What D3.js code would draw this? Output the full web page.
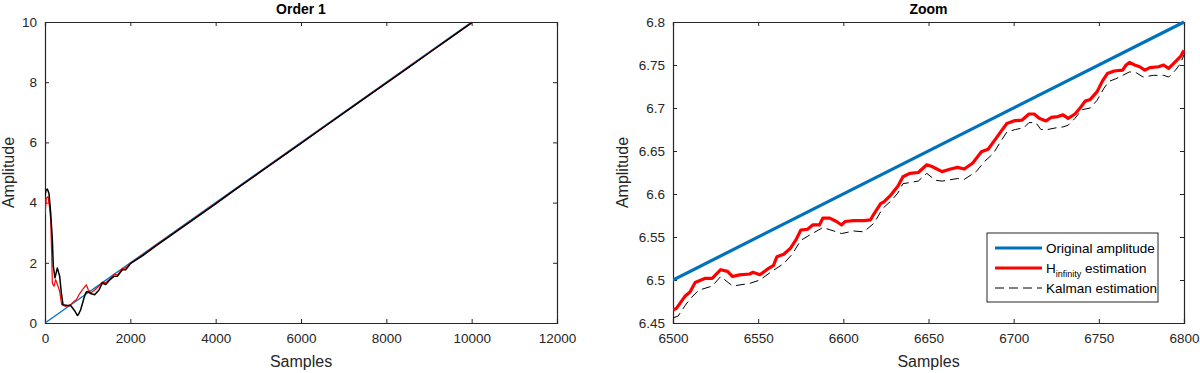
<!DOCTYPE html>
<html lang="en">
<head>
  <meta charset="UTF-8">
  <style>
    body { margin: 0; padding: 0; background: #fff; }
    svg { display: block; font-family: "Liberation Sans", Arial, sans-serif; }
    .tick text { fill: #262626; font-size: 13.5px; }
    .tick line, .domain { stroke: #262626; }
  </style>
</head>
<body>
  <svg id="chart" width="1200" height="373"></svg>

  <script src="https://d3js.org/d3.v7.min.js"></script>
  <script>
    // ---- data ----
    // left panel "Order 1"
    let origSamples = [0, 10000];
    let origValues = [0, 10];

    let hinfSamples = [0, 31, 70, 109, 133, 156, 172, 211, 250, 305, 344, 391, 484, 601, 680, 734, 797, 875, 930, 968, 1010, 1071, 1150, 1260, 1340, 1420, 1520, 1620, 1700, 1810, 1900, 2000, 2300, 2600, 3000, 3500, 4000, 4500, 5000, 5500, 6000, 6500, 7000, 7500, 8000, 8500, 9000, 9500, 10000];
    let hinfValues = [3.6, 4.15, 4.2, 3.82, 3.43, 2.33, 1.33, 1.22, 1.44, 1.22, 1.05, 0.61, 0.55, 0.61, 0.72, 0.77, 0.94, 1.1, 1.2, 1.27, 1.12, 1.0, 1.08, 1.22, 1.36, 1.34, 1.46, 1.62, 1.6, 1.8, 1.84, 1.98, 2.27, 2.58, 2.97, 3.47, 3.98, 4.48, 4.98, 5.48, 5.98, 6.48, 6.98, 7.48, 7.98, 8.48, 8.98, 9.48, 9.98];

    let kalmanSamples = [0, 20, 55, 94, 133, 172, 195, 234, 289, 344, 383, 422, 523, 601, 703, 757, 781, 836, 914, 953, 992, 1070, 1164, 1266, 1344, 1422, 1523, 1617, 1695, 1813, 1891, 2008, 2300, 2600, 3000, 3500, 4000, 4500, 5000, 5500, 6000, 6500, 7000, 7500, 8000, 8500, 9000, 9500, 10000];
    let kalmanValues = [4.2, 4.4, 4.45, 4.3, 3.66, 2.77, 1.88, 1.5, 1.83, 1.55, 1.0, 0.61, 0.58, 0.58, 0.39, 0.25, 0.28, 0.44, 0.83, 1.0, 1.05, 0.98, 0.94, 1.1, 1.33, 1.28, 1.44, 1.55, 1.55, 1.77, 1.77, 1.98, 2.25, 2.56, 2.96, 3.46, 3.96, 4.47, 4.97, 5.47, 5.97, 6.47, 6.97, 7.47, 7.97, 8.47, 8.97, 9.47, 9.97];

    // right panel "Zoom"
    let zoomOrigSamples = [6500, 6800];
    let zoomOrigValues = [6.5, 6.8];

    let zoomHinfSamples = [6500, 6502, 6507, 6510, 6513, 6519, 6523, 6528, 6532, 6535, 6539, 6545, 6547, 6551, 6555, 6559, 6561, 6565, 6569, 6572, 6575, 6579, 6582, 6586, 6588, 6592, 6596, 6599, 6601, 6606, 6612, 6616, 6618, 6622, 6624, 6628, 6632, 6635, 6639, 6644, 6649, 6652, 6658, 6663, 6667, 6671, 6676, 6681, 6685, 6689, 6693, 6696, 6700, 6705, 6709, 6712, 6715, 6719, 6722, 6726, 6729, 6732, 6736, 6739, 6742, 6745, 6749, 6752, 6755, 6759, 6764, 6766, 6768, 6771, 6774, 6777, 6780, 6785, 6788, 6791, 6795, 6798, 6800];
    let zoomHinfValues = [6.465, 6.467, 6.481, 6.486, 6.497, 6.502, 6.502, 6.512, 6.510, 6.504, 6.506, 6.507, 6.509, 6.506, 6.512, 6.517, 6.527, 6.530, 6.537, 6.546, 6.558, 6.559, 6.564, 6.564, 6.572, 6.572, 6.568, 6.564, 6.568, 6.569, 6.569, 6.570, 6.577, 6.589, 6.591, 6.599, 6.609, 6.620, 6.624, 6.625, 6.634, 6.632, 6.626, 6.629, 6.631, 6.629, 6.636, 6.649, 6.652, 6.663, 6.674, 6.682, 6.685, 6.686, 6.693, 6.693, 6.688, 6.685, 6.689, 6.690, 6.692, 6.688, 6.693, 6.700, 6.708, 6.710, 6.719, 6.731, 6.740, 6.743, 6.744, 6.750, 6.753, 6.750, 6.748, 6.744, 6.747, 6.748, 6.750, 6.746, 6.754, 6.760, 6.767];

    let zoomKalmanSamples = [6500, 6503, 6507, 6510, 6515, 6523, 6528, 6535, 6545, 6551, 6558, 6565, 6570, 6575, 6580, 6588, 6596, 6599, 6606, 6612, 6618, 6623, 6628, 6632, 6635, 6644, 6649, 6654, 6658, 6667, 6671, 6678, 6683, 6688, 6693, 6696, 6701, 6706, 6709, 6713, 6716, 6720, 6725, 6729, 6732, 6736, 6740, 6745, 6749, 6753, 6756, 6760, 6764, 6768, 6772, 6776, 6782, 6788, 6791, 6795, 6798, 6800];
    let zoomKalmanValues = [6.456, 6.458, 6.470, 6.478, 6.488, 6.493, 6.504, 6.493, 6.496, 6.500, 6.510, 6.519, 6.530, 6.546, 6.552, 6.561, 6.556, 6.554, 6.557, 6.556, 6.566, 6.583, 6.592, 6.601, 6.612, 6.615, 6.624, 6.616, 6.615, 6.618, 6.617, 6.626, 6.638, 6.647, 6.663, 6.672, 6.675, 6.677, 6.683, 6.683, 6.675, 6.675, 6.677, 6.678, 6.680, 6.688, 6.698, 6.700, 6.709, 6.723, 6.731, 6.734, 6.738, 6.742, 6.741, 6.736, 6.738, 6.738, 6.736, 6.744, 6.752, 6.762];

    let leftXTicks = [0, 2000, 4000, 6000, 8000, 10000, 12000];
    let leftYTicks = [0, 2, 4, 6, 8, 10];
    let rightXTicks = [6500, 6550, 6600, 6650, 6700, 6750, 6800];
    let rightYTicks = [6.45, 6.5, 6.55, 6.6, 6.65, 6.7, 6.75, 6.8];

    let blue = "#0072BD", red = "#FF0000", black = "#000000";

    let svg = d3.select("#chart");
    let zip = (xs, ys) => xs.map((x, i) => [x, ys[i]]);

    function panel(opt) {
      let g = svg.append("g");
      let x = d3.scaleLinear().domain(opt.xDomain).range([opt.left, opt.right]);
      let y = d3.scaleLinear().domain(opt.yDomain).range([opt.bottom, opt.top]);
      let fmt = d => String(+d.toFixed(2));

      // ticks on all four sides, pointing inward (box on)
      g.append("g").attr("transform", "translate(0," + opt.bottom + ")")
        .call(d3.axisBottom(x).tickValues(opt.xTicks).tickSize(-4).tickPadding(10).tickFormat(fmt));
      g.append("g").attr("transform", "translate(0," + opt.top + ")")
        .call(d3.axisTop(x).tickValues(opt.xTicks).tickSize(-4).tickFormat(""));
      g.append("g").attr("transform", "translate(" + opt.left + ",0)")
        .call(d3.axisLeft(y).tickValues(opt.yTicks).tickSize(-4).tickPadding(8).tickFormat(fmt));
      g.append("g").attr("transform", "translate(" + opt.right + ",0)")
        .call(d3.axisRight(y).tickValues(opt.yTicks).tickSize(-4).tickFormat(""));
      g.selectAll(".domain").attr("stroke-width", 1.2);

      let clipId = "clip" + opt.id;
      g.append("clipPath").attr("id", clipId).append("rect")
        .attr("x", opt.left).attr("y", opt.top - 2)
        .attr("width", opt.right - opt.left + 2).attr("height", opt.bottom - opt.top + 2);

      let line = d3.line().x(d => x(d[0])).y(d => y(d[1]));
      let lines = g.append("g").attr("clip-path", "url(#" + clipId + ")");
      opt.series.forEach(s => {
        lines.append("path")
          .attr("d", line(s.data))
          .attr("fill", "none")
          .attr("stroke", s.color)
          .attr("stroke-width", s.width)
          .attr("stroke-dasharray", s.dash || null)
          .attr("stroke-linejoin", "round");
      });

      g.append("text")
        .attr("x", (opt.left + opt.right) / 2).attr("y", opt.top - 8)
        .attr("text-anchor", "middle").attr("font-weight", "bold")
        .attr("font-size", 14).attr("fill", "#000").text(opt.title);
      g.append("text")
        .attr("x", (opt.left + opt.right) / 2).attr("y", 367)
        .attr("text-anchor", "middle").attr("font-size", 16).attr("fill", "#262626").text("Samples");
      g.append("text")
        .attr("transform", "translate(" + opt.yLabelX + "," + ((opt.top + opt.bottom) / 2) + ") rotate(-90)")
        .attr("text-anchor", "middle").attr("font-size", 16).attr("fill", "#262626").text("Amplitude");
      return g;
    }

    panel({
      id: "L", title: "Order 1",
      left: 45, right: 557, top: 22, bottom: 323,
      xDomain: [0, 12000], yDomain: [0, 10],
      xTicks: leftXTicks, yTicks: leftYTicks, yLabelX: 14,
      series: [
        { data: zip(origSamples, origValues), color: blue, width: 1.3 },
        { data: zip(hinfSamples, hinfValues), color: red, width: 1.2 },
        { data: zip(kalmanSamples, kalmanValues), color: black, width: 1.5 }
      ]
    });

    panel({
      id: "R", title: "Zoom",
      left: 673, right: 1184, top: 22, bottom: 323,
      xDomain: [6500, 6800], yDomain: [6.45, 6.8],
      xTicks: rightXTicks, yTicks: rightYTicks, yLabelX: 628,
      series: [
        { data: zip(zoomOrigSamples, zoomOrigValues), color: blue, width: 3.2 },
        { data: zip(zoomHinfSamples, zoomHinfValues), color: red, width: 3.2 },
        { data: zip(zoomKalmanSamples, zoomKalmanValues), color: black, width: 1, dash: "9,5" }
      ]
    });

    // legend
    let lg = svg.append("g").attr("transform", "translate(987,233)");
    lg.append("rect").attr("width", 171).attr("height", 69)
      .attr("fill", "#fff").attr("stroke", "#262626").attr("stroke-width", 1);
    let legendItems = [
      { color: blue, width: 3.2, dash: null },
      { color: red, width: 3.2, dash: null },
      { color: black, width: 1, dash: "9,5" }
    ];
    legendItems.forEach((d, i) => {
      let yy = 15 + i * 20;
      lg.append("line").attr("x1", 8).attr("x2", 55).attr("y1", yy).attr("y2", yy)
        .attr("stroke", d.color).attr("stroke-width", d.width).attr("stroke-dasharray", d.dash);
    });
    lg.append("text").attr("x", 59).attr("y", 20).attr("font-size", 13.5).attr("fill", "#000")
      .text("Original amplitude");
    let ht = lg.append("text").attr("x", 59).attr("y", 40).attr("font-size", 13.5).attr("fill", "#000");
    ht.append("tspan").text("H");
    ht.append("tspan").attr("font-size", 9).attr("dy", 4).text("infinity");
    ht.append("tspan").attr("dy", -4).text(" estimation");
    lg.append("text").attr("x", 59).attr("y", 60).attr("font-size", 13.5).attr("fill", "#000")
      .text("Kalman estimation");
  </script>
</body>
</html>
